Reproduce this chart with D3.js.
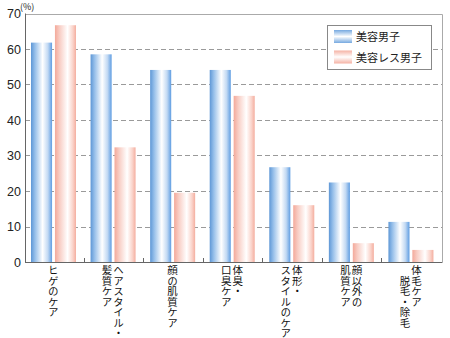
<!DOCTYPE html>
<html><head><meta charset="utf-8">
<script src="https://cdn.jsdelivr.net/npm/d3@7"></script>
<style>
html,body{margin:0;padding:0;background:#fff;}
svg{display:block;}
</style></head>
<body>
<svg id="c" width="450" height="338"></svg>
<script>
const categories = [
  ["ヒゲのケア"],
  ["ヘアスタイル・","髪質ケア"],
  ["顔の肌質ケア"],
  ["体臭・","口臭ケア"],
  ["体形・","スタイルのケア"],
  ["顔以外の","肌質ケア"],
  ["体毛ケア","　脱毛・除毛"]
];
const seriesNames = ["美容男子","美容レス男子"];
const biyouDanshi = [61.8, 58.5, 54.1, 54.1, 26.7, 22.4, 11.3];
const biyouLessDanshi = [66.7, 32.3, 19.5, 46.8, 16.0, 5.3, 3.4];
const yTicks = [0,10,20,30,40,50,60,70];
const unitLabel = "(%)";

const svg = d3.select("#c");
const L = 25, T = 13.5, R = 442, B = 262;
const jp = "'Noto Sans CJK JP','Noto Sans',sans-serif";

const defs = svg.append("defs");
function grad(id, stops){
  const g = defs.append("linearGradient").attr("id", id).attr("x1","0").attr("x2","1").attr("y1","0").attr("y2","0");
  stops.forEach(s => g.append("stop").attr("offset", s[0]).attr("stop-color", s[1]));
}
grad("gb", [[0,"#5e97d6"],[0.18,"#93bde9"],[0.55,"#ffffff"],[0.8,"#c2d9f3"],[1,"#5f9de2"]]);
grad("gp", [[0,"#f3a99a"],[0.22,"#f8cdc4"],[0.6,"#ffffff"],[0.85,"#fad3ca"],[1,"#f4ae9f"]]);

const idx = d3.range(categories.length);
const x0 = d3.scaleBand().domain(idx).range([L, R]).padding(0);
const x1 = d3.scaleBand().domain([0,1]).range([6, 51]).paddingInner(0.12);
const y = d3.scaleLinear().domain([0, 70]).range([B, T]);

// grid
svg.append("g").selectAll("line").data(yTicks.filter(t => t > 0 && t < 70)).join("line")
  .attr("x1", L).attr("x2", R).attr("y1", d => Math.round(y(d)) + 0.5).attr("y2", d => Math.round(y(d)) + 0.5)
  .attr("stroke", "#9a9a9a").attr("stroke-dasharray", "5,3");

// frame top/right
svg.append("path").attr("d", `M${L},${Math.round(T)+0.5}H${R+0.5}V${B}`)
  .attr("fill","none").attr("stroke","#aaaaaa");

// bars
const series = [biyouDanshi, biyouLessDanshi];
const fills = ["url(#gb)","url(#gp)"];
series.forEach((vals, si) => {
  svg.append("g").selectAll("rect").data(vals).join("rect")
    .attr("x", (d,i) => x0(i) + x1(si))
    .attr("width", x1.bandwidth())
    .attr("y", d => y(d))
    .attr("height", d => B - y(d))
    .attr("fill", fills[si]);
});

// axes lines
svg.append("line").attr("x1", L+0.5).attr("x2", L+0.5).attr("y1", T).attr("y2", B).attr("stroke","#666");
svg.append("line").attr("x1", L).attr("x2", R+0.5).attr("y1", B+0.5).attr("y2", B+0.5).attr("stroke","#666");

// bottom ticks between groups
svg.append("g").selectAll("line").data(idx.slice(1)).join("line")
  .attr("x1", d => Math.round(x0(d)) - 0.5).attr("x2", d => Math.round(x0(d)) - 0.5)
  .attr("y1", B - 4).attr("y2", B).attr("stroke","#666");

// y labels
const yAxis = d3.axisLeft(y).tickValues(yTicks).tickSize(0).tickPadding(4);
const ga = svg.append("g").attr("transform", `translate(${L},0)`).call(yAxis);
ga.select(".domain").remove();
ga.selectAll("text").attr("font-family","'Liberation Sans',Arial,sans-serif").attr("font-size", 12.5).attr("fill","#222");

svg.append("text").attr("x", 20).attr("y", 10).text(unitLabel)
  .attr("font-family", jp).attr("font-size", 9).attr("fill","#222");

// category labels (vertical)
categories.forEach((lines, i) => {
  const cx = x0(i) + x0.bandwidth()/2 - 1.5;
  const n = lines.length, sp = 11.5;
  lines.forEach((ln, j) => {
    const colX = cx + ((n-1)/2 - j) * sp;
    svg.append("text")
      .attr("x", colX).attr("y", 265)
      .style("writing-mode", "vertical-rl")
      .attr("font-family", jp).attr("font-size", 10.5).attr("fill","#111")
      .text(ln);
  });
});

// legend
const lg = svg.append("g");
lg.append("rect").attr("x", 327.5).attr("y", 25.5).attr("width", 104).attr("height", 44)
  .attr("fill","#fff").attr("stroke","#888");
seriesNames.forEach((nm, i) => {
  const yy = 30 + i*20.5;
  lg.append("rect").attr("x", 334).attr("y", yy).attr("width", 18).attr("height", 13)
    .attr("fill", i === 0 ? "url(#lgb)" : "url(#lgp)");
  lg.append("text").attr("x", 356).attr("y", yy + 11).text(nm)
    .attr("font-family", jp).attr("font-size", 11).attr("fill","#222");
});
function vgrad(id, c){
  const g = defs.append("linearGradient").attr("id", id).attr("x1","0").attr("x2","0").attr("y1","0").attr("y2","1");
  [[0,c],[0.5,"#ffffff"],[1,c]].forEach(s => g.append("stop").attr("offset", s[0]).attr("stop-color", s[1]));
}
vgrad("lgb", "#76a9e0");
vgrad("lgp", "#f5b2a4");
</script>
</body></html>
